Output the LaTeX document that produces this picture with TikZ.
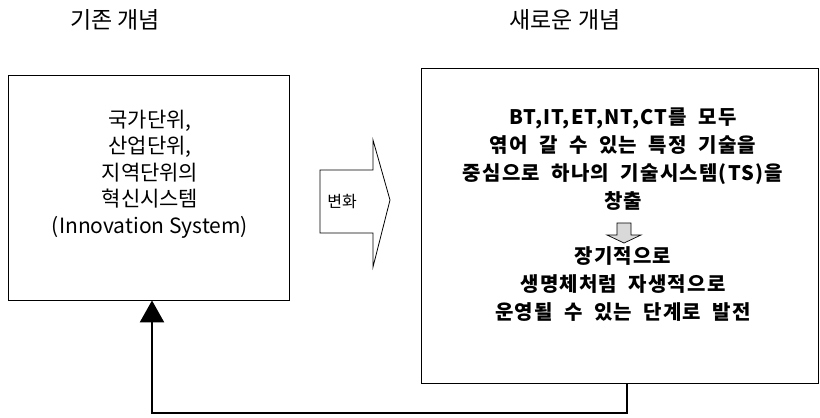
\documentclass[tikz,border=0pt]{standalone}
\usepackage{fontspec}
\newfontfamily\kr{Noto Sans CJK KR}
\newfontfamily\krw[LetterSpace=6, WordSpace=2]{Noto Sans CJK KR}
\usetikzlibrary{arrows.meta}
\begin{document}
\begin{tikzpicture}[x=1pt,y=-1pt,
  box/.style={draw, line width=0.9pt, inner sep=0pt},
  ttl/.style={font=\kr\fontsize{23}{26}\selectfont, inner sep=0pt},
  ltxt/.style={font=\kr\fontsize{21}{26.5}\selectfont, align=center, inner sep=0pt},
  rtxt/.style={font=\krw\bfseries\fontsize{20}{28}\selectfont, align=center, inner sep=0pt},
  blk/.style={draw, line width=0.8pt}]
\useasboundingbox (0,0) rectangle (820,418);
\node[ttl] (t1) at (115,20) {기존 개념};
\node[ttl] (t2) at (565,20) {새로운 개념};
\node[box, minimum width=281pt, minimum height=225pt] (lbox) at (148.5,187.5) {};
\node[box, minimum width=397pt, minimum height=315pt] (rbox) at (619.5,225.5) {};
\node[ltxt] (lt) at (150,174) {국가단위,\\산업단위,\\지역단위의\\혁신시스템\\(Innovation System)};
\node[rtxt] (rt1) at (623,159) {BT,IT,ET,NT,CT를 모두\\엮어 갈 수 있는 특정 기술을\\중심으로 하나의 기술시스템(TS)을\\창출};
\node[rtxt] (rt2) at (623,284) {장기적으로\\생명체처럼 자생적으로\\운영될 수 있는 단계로 발전};
% change arrow
\draw[blk] (320,170) -- (373,170) -- (373,140) -- (390,200) -- (373,267) -- (373,233) -- (320,233) -- cycle;
\node[font=\kr\fontsize{16}{18}\selectfont, inner sep=0pt] (chg) at (342,202) {변화};
% small down arrow
\draw[line width=0.7pt, fill=black!15] (617,223) -- (631,223) -- (631,235) -- (641,235) -- (624,243) -- (607,235) -- (617,235) -- cycle;
% feedback
\coordinate (fbR) at (627,413);
\coordinate (fbL) at (152,413);
\draw[line width=2.5pt, -{Triangle[length=22pt,width=24pt]}] (rbox.south -| fbR) -- (fbR) -- (fbL) -- (lbox.south -| fbL);
\end{tikzpicture}
\end{document}
